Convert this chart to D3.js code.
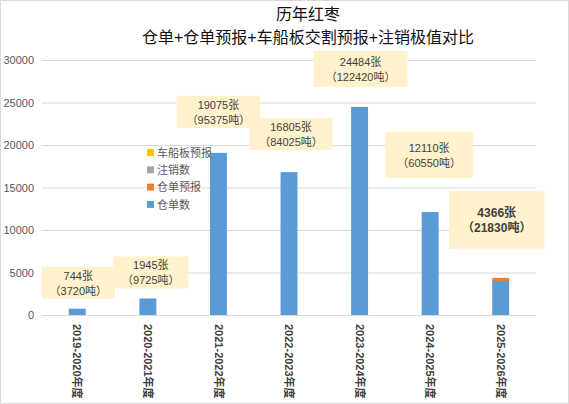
<!DOCTYPE html>
<html>
<head>
<meta charset="utf-8">
<script src="https://cdn.jsdelivr.net/npm/d3@7"></script>
<style>
  body { margin: 0; background: #fff; }
  svg { display: block; font-family: "Liberation Sans", "Noto Sans CJK SC", sans-serif; }
</style>
</head>
<body>
<div id="chart"></div>
<script>
// data
const categories = ["2019-2020年度", "2020-2021年度", "2021-2022年度", "2022-2023年度",
                    "2023-2024年度", "2024-2025年度", "2025-2026年度"];
const cangdan = [744, 1945, 19075, 16805, 24484, 12110, 4000];      // 仓单数
const cangdanYubao = [0, 0, 0, 0, 0, 0, 366];                      // 仓单预报
const zhuxiao = [0, 0, 0, 0, 0, 0, 0];                             // 注销数
const chechuan = [0, 0, 0, 0, 0, 0, 0];                            // 车船板预报
const labelZhang = [744, 1945, 19075, 16805, 24484, 12110, 4366];
const labelDun = [3720, 9725, 95375, 84025, 122420, 60550, 21830];
const yTicks = [0, 5000, 10000, 15000, 20000, 25000, 30000];

const seriesNames = ["仓单数", "仓单预报", "注销数", "车船板预报"];
const seriesColors = ["#5B9BD5", "#ED7D31", "#A5A5A5", "#FFC000"];

function main() {
    const width = 569;
    const height = 404;
    const svg = d3.select("#chart")
        .append("svg")
        .attr("width", width)
        .attr("height", height)

    svg.append("rect")
        .attr("x", 0.5).attr("y", 0.5)
        .attr("width", width - 1).attr("height", height - 1)
        .attr("fill", "#fff")
        .attr("stroke", "#d9d9d9")

    // title
    svg.append("text")
        .attr("x", 308).attr("y", 20)
        .attr("text-anchor", "middle")
        .style("font-size", "16px")
        .style("fill", "#111")
        .text("历年红枣")
    svg.append("text")
        .attr("x", 308).attr("y", 43)
        .attr("text-anchor", "middle")
        .style("font-size", "16px")
        .style("fill", "#111")
        .text("仓单+仓单预报+车船板交割预报+注销极值对比")

    const x = d3.scaleBand().domain(categories).range([42, 536])
        .paddingInner(0.76).paddingOuter(0.38)
    const y = d3.scaleLinear().domain([0, 30000]).range([315, 60])

    // gridlines
    svg.append("g")
        .selectAll("line")
        .data(yTicks)
        .join("line")
        .attr("x1", 42).attr("x2", 536)
        .attr("y1", d => y(d) + 0.5).attr("y2", d => y(d) + 0.5)
        .attr("stroke", "#d9d9d9")

    // y axis labels
    const yAxis = svg.append("g")
        .attr("transform", "translate(42,0)")
        .call(d3.axisLeft(y).tickValues(yTicks).tickSize(0).tickPadding(8).tickFormat(d3.format("d")))
    yAxis.select(".domain").remove()
    yAxis.selectAll("text")
        .style("font-size", "11px")
        .style("fill", "#595959")
        .style("font-family", "Liberation Sans, sans-serif")

    // stacked bars
    const rows = categories.map((c, i) => ({
        cat: c, s0: cangdan[i], s1: cangdanYubao[i], s2: zhuxiao[i], s3: chechuan[i]
    }))
    const stack = d3.stack().keys(["s0", "s1", "s2", "s3"])(rows)

    svg.append("g")
        .selectAll("g")
        .data(stack)
        .join("g")
        .attr("fill", (d, i) => seriesColors[i])
        .selectAll("rect")
        .data(d => d)
        .join("rect")
        .attr("x", d => x(d.data.cat))
        .attr("width", x.bandwidth())
        .attr("y", d => y(d[1]))
        .attr("height", d => y(d[0]) - y(d[1]))

    // x axis labels, rotated
    const xAxis = svg.append("g")
        .attr("transform", "translate(0,315)")
        .call(d3.axisBottom(x).tickSize(0).tickPadding(0))
    xAxis.select(".domain").remove()
    xAxis.selectAll("text")
        .attr("transform", "rotate(90)")
        .attr("x", 9)
        .attr("y", 0)
        .attr("dy", "0.35em")
        .attr("text-anchor", "start")
        .style("font-size", "11px")
        .style("font-weight", "bold")
        .style("fill", "#404040")
        .style("font-family", "Liberation Sans, Noto Sans CJK SC, sans-serif")

    // value callouts: gap above bar top, horizontal shift, extra padding
    const callout = [
        { gap: 10, dx: 1, padX: 8, padY: 0, bold: false },
        { gap: 10, dx: 3, padX: 9, padY: 0, bold: false },
        { gap: 25, dx: 0, padX: 10, padY: 0, bold: false },
        { gap: 22, dx: 2, padX: 10, padY: 0, bold: false },
        { gap: 20, dx: 1, padX: 12, padY: 2, bold: false },
        { gap: 34, dx: -1, padX: 12, padY: 7, bold: false },
        { gap: 29, dx: -4, padX: 13, padY: 13, bold: true }
    ]
    const totals = categories.map((c, i) => cangdan[i] + cangdanYubao[i] + zhuxiao[i] + chechuan[i])
    const labels = svg.append("g")
    categories.forEach((c, i) => {
        const o = callout[i]
        const cx = x(c) + x.bandwidth() / 2 + o.dx
        const bottom = y(totals[i]) - o.gap
        const g = labels.append("g")
        const box = g.append("rect").attr("fill", "#FFF2CC")
        const fs = o.bold ? 12 : 11
        const t1 = g.append("text")
            .attr("x", cx).attr("text-anchor", "middle")
            .style("font-size", fs + "px")
            .style("font-weight", o.bold ? "bold" : "normal")
            .style("fill", "#404040")
            .text(labelZhang[i] + "张")
        const t2 = g.append("text")
            .attr("x", cx).attr("text-anchor", "middle")
            .style("font-size", fs + "px")
            .style("font-weight", o.bold ? "bold" : "normal")
            .style("fill", "#404040")
            .text("（" + labelDun[i] + "吨）")
        const w = Math.max(t1.node().getComputedTextLength(), t2.node().getComputedTextLength())
        const lineH = 15
        const h = lineH * 2 + 2 + o.padY * 2
        const top = bottom - h
        box.attr("x", cx - w / 2 - o.padX).attr("y", top)
            .attr("width", w + o.padX * 2).attr("height", h)
        t1.attr("y", top + o.padY + 13)
        t2.attr("y", top + o.padY + 13 + lineH)
    })

    // legend, reversed order
    const legend = svg.append("g").attr("transform", "translate(147,153)")
    const legendItems = seriesNames.map((n, i) => ({ name: n, color: seriesColors[i] })).reverse()
    const li = legend.selectAll("g")
        .data(legendItems)
        .join("g")
        .attr("transform", (d, i) => "translate(0," + (i * 17.3) + ")")
    li.append("rect")
        .attr("x", 0).attr("y", -4)
        .attr("width", 7).attr("height", 7)
        .attr("fill", d => d.color)
    li.append("text")
        .attr("x", 10).attr("dy", "0.35em")
        .style("font-size", "11px")
        .style("fill", "#595959")
        .text(d => d.name)
}
main();
</script>
</body>
</html>
